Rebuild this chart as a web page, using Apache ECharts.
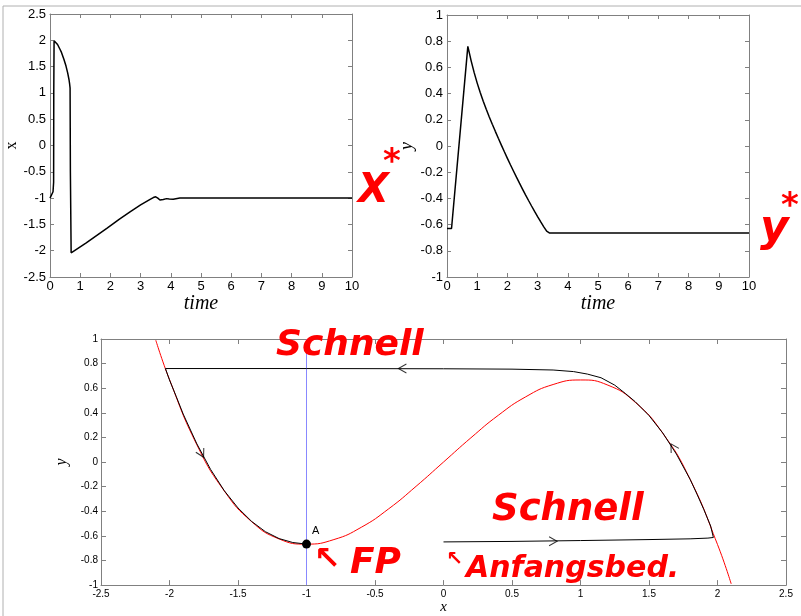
<!DOCTYPE html>
<html>
<head>
<meta charset="utf-8">
<script src="https://cdn.jsdelivr.net/npm/echarts@6/dist/echarts.min.js"></script>
<style>
    html, body { margin: 0; padding: 0; background: #fff; }
    #main { width: 801px; height: 616px; }
</style>
</head>
<body>
<div id="main"></div>
<script>
    // x(t), top left
    var tX = [0, 0.05, 0.1, 0.12, 0.125, 0.135, 0.2, 0.25, 0.33, 0.38, 0.46, 0.53, 0.585, 0.63, 0.65, 0.665, 0.675, 0.7, 0.72,
        1.2, 1.88, 2.3, 2.65, 3.0, 3.3, 3.42, 3.5, 3.57, 3.64, 3.75, 3.86, 3.95, 4.08, 4.3, 5, 10];
    var xVals = [-1.0, -0.97, -0.88, -0.7, 1.0, 1.99, 1.96, 1.92, 1.83, 1.77, 1.64, 1.51, 1.38, 1.25, 1.17, 1.09, -0.5, -2.04, -2.03,
        -1.85, -1.575, -1.40, -1.26, -1.13, -1.03, -0.99, -0.975, -1.0, -1.035, -1.025, -1.01, -1.015, -1.02, -1.0, -1.0, -1.0];

    // y(t), top right
    var tY = [0, 0.15, 0.69, 0.8, 0.9, 1.0, 1.1, 1.2, 1.3, 1.4, 1.5, 1.6, 1.7, 1.8, 1.9, 2.0, 2.1, 2.2, 2.3, 2.4, 2.5,
        2.6, 2.7, 2.8, 2.9, 3.0, 3.1, 3.2, 3.3, 3.4, 4, 10];
    var yVals = [-0.63, -0.63, 0.76, 0.65, 0.56, 0.48, 0.408, 0.342, 0.28, 0.222, 0.166, 0.112, 0.059, 0.007, -0.044, -0.094,
        -0.143, -0.191, -0.238, -0.284, -0.329, -0.373, -0.416, -0.458, -0.499, -0.539, -0.578, -0.615, -0.65, -0.665, -0.665, -0.665];

    // phase plane: red nullcline
    var nullX = [-2.1, -2.0, -1.8, -1.6, -1.4, -1.2, -1.0, -0.8, -0.6, -0.4, -0.2, 0, 0.2, 0.4, 0.6, 0.8, 1.0, 1.2, 1.4, 1.6, 1.8, 2.0, 2.1];
    var nullY = [0.99, 0.67, 0.14, -0.235, -0.485, -0.625, -0.667, -0.63, -0.53, -0.38, -0.197, 0, 0.197, 0.38, 0.53, 0.63, 0.667, 0.625, 0.485, 0.235, -0.14, -0.67, -0.99];

    // phase plane: black trajectory
    var trajX = [0, 0.5, 1.0, 1.5, 1.8, 1.93, 1.97, 1.98, 1.95, 1.9, 1.85, 1.8, 1.7, 1.6, 1.5, 1.4, 1.33, 1.25, 1.15, 1.05, 0.95, 0.8, 0.5, 0, -1.0, -2.03,
        -2.0, -1.95, -1.9, -1.8, -1.7, -1.6, -1.5, -1.4, -1.3, -1.2, -1.1, -1.0];
    var trajY = [-0.649, -0.645, -0.638, -0.63, -0.624, -0.618, -0.613, -0.60, -0.52, -0.385, -0.26, -0.14, 0.065, 0.237, 0.378, 0.49, 0.555, 0.625, 0.685, 0.715, 0.735, 0.748, 0.755, 0.758, 0.76, 0.76,
        0.667, 0.53, 0.39, 0.147, -0.06, -0.233, -0.373, -0.483, -0.566, -0.622, -0.654, -0.667];

    // direction arrows on the trajectory
    var arrowX = [-0.3, 0.8, -1.765, 1.675];
    var arrowY = [0.76, -0.643, 0.068, 0.12];
    var arrowDir = [180, 0, -62, 121];

    var blueX = [-1, -1];
    var blueY = [-1, 1];
    var fpX = [-1];
    var fpY = [-0.667];

    function zip(a, b) {
        var out = [];
        for (var i = 0; i < a.length; i++) out.push([a[i], b[i]]);
        return out;
    }

    var axisCol = '#808080';
    var font = 'Liberation Sans, Arial, sans-serif';

    function mkAxis(grid, pos, min, max, step, fs, tick, showLabel, margin, name, nameOpt) {
        var a = {
            type: 'value',
            gridIndex: grid,
            position: pos,
            min: min,
            max: max,
            interval: step,
            splitLine: { show: false },
            axisLine: { show: true, onZero: false, lineStyle: { color: axisCol, width: 1 } },
            axisTick: { show: true, inside: true, length: tick, lineStyle: { color: axisCol } },
            axisLabel: { show: showLabel, color: '#000', fontSize: fs, fontFamily: font, margin: margin, hideOverlap: false, showMinLabel: true, showMaxLabel: true }
        };
        if (name) {
            a.name = name;
            a.nameLocation = 'middle';
            for (var k in nameOpt) a[k] = nameOpt[k];
        }
        return a;
    }

    var timeName = { fontFamily: 'Liberation Serif, serif', fontStyle: 'italic', fontSize: 20, color: '#000' };

    var xAxes = [
        mkAxis(0, 'bottom', 0, 10, 1, 13, 4, true, 3, 'time', { nameGap: 15, nameTextStyle: timeName }),
        mkAxis(0, 'top', 0, 10, 1, 13, 4, false, 3),
        mkAxis(1, 'bottom', 0, 10, 1, 13, 4, true, 3, 'time', { nameGap: 15, nameTextStyle: timeName }),
        mkAxis(1, 'top', 0, 10, 1, 13, 4, false, 3),
        mkAxis(2, 'bottom', -2.5, 2.5, 0.5, 10, 5, true, 4, 'x', { nameGap: 11, nameTextStyle: { fontFamily: 'Liberation Serif, serif', fontStyle: 'italic', fontSize: 15, color: '#000' } }),
        mkAxis(2, 'top', -2.5, 2.5, 0.5, 10, 5, false, 4)
    ];
    var yAxes = [
        mkAxis(0, 'left', -2.5, 2.5, 0.5, 13, 4, true, 4, 'x', { nameGap: 30, nameTextStyle: { fontFamily: 'Liberation Serif, serif', fontSize: 16, color: '#000' } }),
        mkAxis(0, 'right', -2.5, 2.5, 0.5, 13, 4, false, 4),
        mkAxis(1, 'left', -1, 1, 0.2, 13, 4, true, 4, 'y', { nameGap: 30, nameTextStyle: { fontFamily: 'Liberation Serif, serif', fontStyle: 'italic', fontSize: 18, color: '#000' } }),
        mkAxis(1, 'right', -1, 1, 0.2, 13, 4, false, 4),
        mkAxis(2, 'left', -1, 1, 0.2, 10, 5, true, 3, 'y', { nameGap: 21, nameTextStyle: { fontFamily: 'Liberation Serif, serif', fontStyle: 'italic', fontSize: 16, color: '#000' } }),
        mkAxis(2, 'right', -1, 1, 0.2, 10, 5, false, 3)
    ];

    function note(txt, x, y, size) {
        return {
            type: 'text', left: x, top: y, z: 100,
            style: { text: txt, fill: '#ff0000', fontFamily: 'DejaVu Sans', fontWeight: 'bold', fontStyle: 'italic', fontSize: size }
        };
    }

    var chart = echarts.init(document.getElementById('main'), null, { renderer: 'canvas' });
    var option = {
        backgroundColor: '#fff',
        animation: false,
        grid: [
            { left: 50, top: 14, width: 302, height: 263 },
            { left: 447, top: 15, width: 302, height: 262 },
            { left: 101, top: 339, width: 685, height: 249 }
        ],
        xAxis: xAxes,
        yAxis: yAxes,
        graphic: [
            { type: 'line', shape: { x1: 3, y1: 6, x2: 801, y2: 6 }, style: { stroke: '#b0b0b0', lineWidth: 1 } },
            { type: 'line', shape: { x1: 3, y1: 6, x2: 3, y2: 616 }, style: { stroke: '#b0b0b0', lineWidth: 1 } },
            note('Schnell', 276, 328, 36),
            note('\u2196', 314, 545, 32),
            note('FP', 350, 546, 36),
            note('Schnell', 492, 492, 37),
            note('\u2196', 446, 550, 20),
            note('Anfangsbed.', 466, 554, 30),
            note('X', 358, 172, 40),
            note('*', 383, 146, 34),
            note('y', 760, 208, 44),
            note('*', 781, 190, 34)
        ],
        series: [
            {
                type: 'line', xAxisIndex: 0, yAxisIndex: 0, data: zip(tX, xVals),
                showSymbol: false, lineStyle: { color: '#000', width: 1.5 }
            },
            {
                type: 'line', xAxisIndex: 2, yAxisIndex: 2, data: zip(tY, yVals),
                showSymbol: false, lineStyle: { color: '#000', width: 1.5 }
            },
            {
                type: 'line', xAxisIndex: 4, yAxisIndex: 4, data: zip(blueX, blueY),
                showSymbol: false, lineStyle: { color: '#8888ff', width: 1 }
            },
            {
                type: 'line', xAxisIndex: 4, yAxisIndex: 4, data: zip(nullX, nullY), smooth: true,
                showSymbol: false, lineStyle: { color: '#ff0000', width: 1 }
            },
            {
                type: 'line', xAxisIndex: 4, yAxisIndex: 4, data: zip(trajX, trajY),
                showSymbol: false, lineStyle: { color: '#000', width: 1 }
            },
            {
                type: 'scatter', xAxisIndex: 4, yAxisIndex: 4, z: 10,
                data: arrowX.map(function (v, i) {
                    return { value: [v, arrowY[i]], symbolRotate: arrowDir[i] };
                }),
                symbol: 'path://M0,0L10,5L0,10', symbolSize: [8, 9],
                itemStyle: { color: 'rgba(0,0,0,0)', borderColor: '#000', borderWidth: 1 }
            },
            {
                type: 'scatter', xAxisIndex: 4, yAxisIndex: 4, z: 10, data: zip(fpX, fpY),
                symbol: 'circle', symbolSize: 9, itemStyle: { color: '#000', opacity: 1 },
                label: { show: true, formatter: 'A', position: [10, -14], fontSize: 11, fontFamily: font, color: '#000' }
            }
        ]
    };
    chart.setOption(option);
</script>
</body>
</html>
